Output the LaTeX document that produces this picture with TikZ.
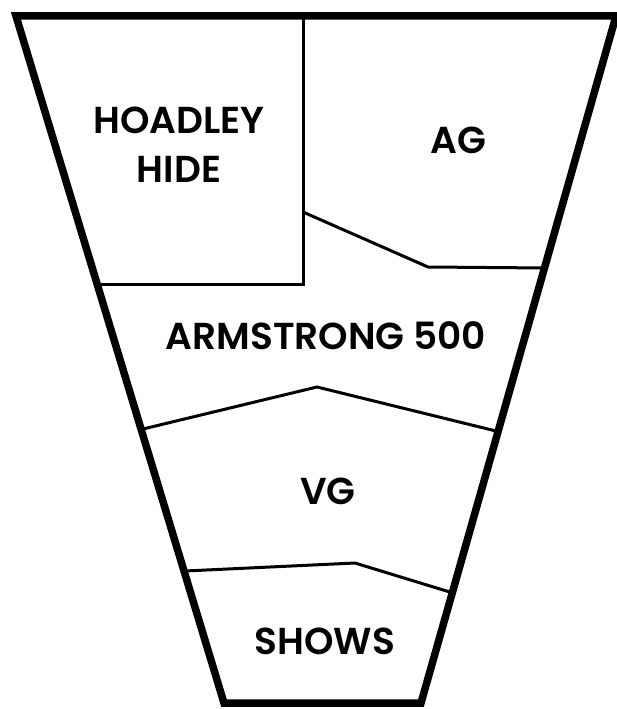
\documentclass[tikz,border=0pt]{standalone}
\usepackage{fontspec}
\setmainfont{Poppins}[BoldFont={Poppins SemiBold}]
\begin{document}
\begin{tikzpicture}[x=1pt,y=-1pt,
  outer/.style={line width=7.5pt,line join=miter},
  inner/.style={line width=3pt,line join=miter},
  lbl/.style={font=\fontsize{37.5}{49}\selectfont\bfseries,align=center,inner sep=0pt}]
\useasboundingbox (0,0) rectangle (617,709);
% outer funnel
\draw[outer] (16,16) -- (616,16) -- (421,703) -- (224,703) -- cycle;
% inner divisions
\draw[inner] (303,16) -- (303,284) -- (98,284);
\draw[inner] (303,212) -- (428,267) -- (547,268);
\draw[inner] (143,429) -- (317,387) -- (500,432);
\draw[inner] (185,571) -- (355,563) -- (453,593);
% labels
\node[lbl] (hoadley) at (179,145) {HOADLEY\\HIDE};
\node[lbl] (ag) at (458,140) {AG};
\node[lbl] (armstrong) at (326,336) {ARMSTRONG 500};
\node[lbl] (vg) at (328,491) {VG};
\node[lbl] (shows) at (325,641) {SHOWS};
\end{tikzpicture}
\end{document}
